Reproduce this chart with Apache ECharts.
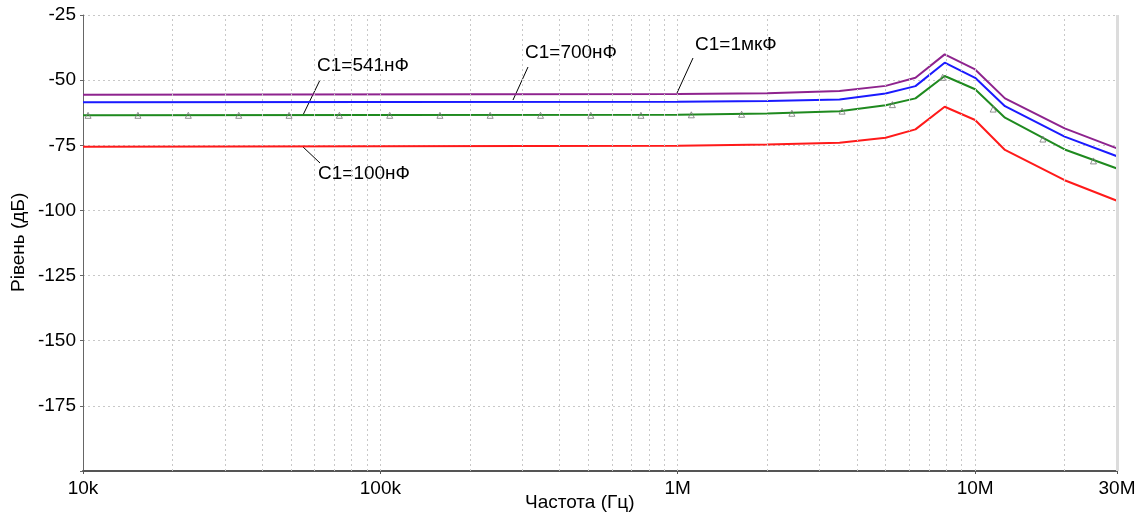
<!DOCTYPE html>
<html>
<head>
<meta charset="utf-8">
<script src="https://cdn.jsdelivr.net/npm/echarts@6/dist/echarts.min.js"></script>
<style>
  html, body { margin: 0; padding: 0; background: #fff; }
  #main { width: 1147px; height: 513px; }
</style>
</head>
<body>
<div id="main"></div>
<script>
// частоти точок кривих, Гц
const freqs = [1e4, 1e6, 2e6, 3.5e6, 5e6, 6.3e6, 7.9e6, 1e7, 1.26e7, 2e7, 3e7];
// рівні, дБ
const level1uF = [-55.6, -55.3, -55.0, -54.2, -52.2, -49.1, -40.1, -45.9, -57.0, -68.5, -76.2];
const level700nF = [-58.5, -58.3, -58.0, -57.4, -55.1, -52.3, -43.3, -49.1, -60.0, -71.7, -79.2];
const level541nF = [-63.5, -63.3, -62.8, -61.9, -59.6, -57.0, -48.4, -53.5, -64.4, -76.6, -83.9];
const level100nF = [-75.6, -75.2, -74.7, -74.0, -72.1, -68.9, -60.2, -65.3, -76.8, -88.4, -96.3];

// маркери на кривій C1=541нФ
const markerFreqs = [1.04e4, 1.53e4, 2.26e4, 3.34e4, 4.93e4, 7.28e4, 1.075e5, 1.586e5, 2.34e5, 3.456e5,
  5.1e5, 7.52e5, 1.111e6, 1.64e6, 2.42e6, 3.57e6, 5.27e6, 7.78e6, 1.15e7, 1.69e7, 2.5e7];
const markerLevels = [-63.5, -63.5, -63.5, -63.5, -63.5, -63.5, -63.5, -63.5, -63.5, -63.5,
  -63.5, -63.5, -63.3, -63.1, -62.7, -61.9, -59.4, -48.9, -61.1, -72.6, -81.0];

// підписи осі X
const xTickValues = [1e4, 1e5, 1e6, 1e7, 3e7];
const xTickLabels = ['10k', '100k', '1M', '10M', '30M'];
// вертикальна сітка
const gridFreqs = [2e4, 3e4, 4e4, 5e4, 6e4, 7e4, 8e4, 9e4, 1e5,
  2e5, 3e5, 4e5, 5e5, 6e5, 7e5, 8e5, 9e5, 1e6,
  2e6, 3e6, 4e6, 5e6, 6e6, 7e6, 8e6, 9e6, 1e7, 2e7];

const font = 'Liberation Sans, Arial, sans-serif';
const pairs = (xs, ys) => xs.map((x, i) => [x, ys[i]]);

const chart = echarts.init(document.getElementById('main'));

const curve = (name, color, values) => ({
  name: name,
  type: 'line',
  data: pairs(freqs, values),
  showSymbol: false,
  symbol: 'none',
  lineStyle: { color: color, width: 2 },
  itemStyle: { color: color },
  z: 3
});

const option = {
  animation: false,
  grid: { left: 83, right: 30, top: 15, bottom: 42 },
  xAxis: {
    type: 'log',
    logBase: 10,
    min: 1e4,
    max: 3e7,
    axisLine: { lineStyle: { color: '#555', width: 2 } },
    axisTick: { show: true, length: 3, lineStyle: { color: '#555' } },
    splitLine: { show: false },
    axisLabel: {
      color: '#000',
      fontFamily: font,
      fontSize: 19,
      margin: 8,
      showMaxLabel: true,
      showMinLabel: true,
      formatter: function (v) {
        for (let i = 0; i < xTickValues.length; i++) {
          if (Math.abs(v / xTickValues[i] - 1) < 0.01) return xTickLabels[i];
        }
        return '';
      }
    }
  },
  yAxis: {
    type: 'value',
    min: -200,
    max: -25,
    interval: 25,
    axisLine: { show: true, lineStyle: { color: '#666', width: 1 } },
    axisTick: { show: true, length: 3, lineStyle: { color: '#666' } },
    splitLine: { show: true, lineStyle: { color: '#c8c8c8', type: [2, 3], width: 1 } },
    axisLabel: {
      color: '#000',
      fontFamily: font,
      fontSize: 19,
      margin: 7,
      formatter: function (v) { return v === -200 ? '' : String(v); }
    }
  },
  graphic: [
    { type: 'text', left: 525, top: 493, style: { text: 'Частота (Гц)', font: '19px ' + font, fill: '#000' } },
    { type: 'text', x: 9, y: 292, rotation: Math.PI / 2, style: { text: 'Рівень (дБ)', font: '19px ' + font, fill: '#000', textBaseline: 'top' } },

    { type: 'text', x: 317, y: 66, style: { text: 'C1=541нФ', font: '19px ' + font, fill: '#000', textVerticalAlign: 'middle' } },
    { type: 'line', shape: { x1: 320, y1: 80, x2: 303, y2: 115 }, style: { stroke: '#000', lineWidth: 1 } },
    { type: 'text', x: 525, y: 53, style: { text: 'C1=700нФ', font: '19px ' + font, fill: '#000', textVerticalAlign: 'middle' } },
    { type: 'line', shape: { x1: 528, y1: 67, x2: 513, y2: 100 }, style: { stroke: '#000', lineWidth: 1 } },
    { type: 'text', x: 695, y: 45, style: { text: 'C1=1мкФ', font: '19px ' + font, fill: '#000', textVerticalAlign: 'middle' } },
    { type: 'line', shape: { x1: 693, y1: 58, x2: 677, y2: 93 }, style: { stroke: '#000', lineWidth: 1 } },
    { type: 'text', x: 318, y: 174, style: { text: 'C1=100нФ', font: '19px ' + font, fill: '#000', textVerticalAlign: 'middle' } },
    { type: 'line', shape: { x1: 302, y1: 146, x2: 320, y2: 163 }, style: { stroke: '#000', lineWidth: 1 } }
  ],
  series: [
    {
      name: 'grid',
      type: 'line',
      data: [],
      z: 1,
      silent: true,
      markLine: {
        silent: true,
        symbol: 'none',
        label: { show: false },
        lineStyle: { color: '#c8c8c8', type: [2, 3], width: 1 },
        data: gridFreqs.map(f => ({ xAxis: f })).concat([
          { xAxis: 3e7, lineStyle: { color: '#dcdcdc', type: 'solid', width: 3 } }
        ])
      }
    },
    curve('C1=100нФ', '#ff1a1a', level100nF),
    curve('C1=541нФ', '#1f8a1f', level541nF),
    curve('C1=700нФ', '#1a1aff', level700nF),
    curve('C1=1мкФ', '#8e238e', level1uF),
    {
      name: 'markers',
      type: 'scatter',
      data: pairs(markerFreqs, markerLevels),
      symbol: 'triangle',
      symbolSize: 6,
      itemStyle: { color: 'rgba(255,255,255,0)', borderColor: '#777', borderWidth: 1 },
      z: 4,
      silent: true
    }
  ]
};

chart.setOption(option);
window.addEventListener('resize', () => chart.resize());
</script>
</body>
</html>
